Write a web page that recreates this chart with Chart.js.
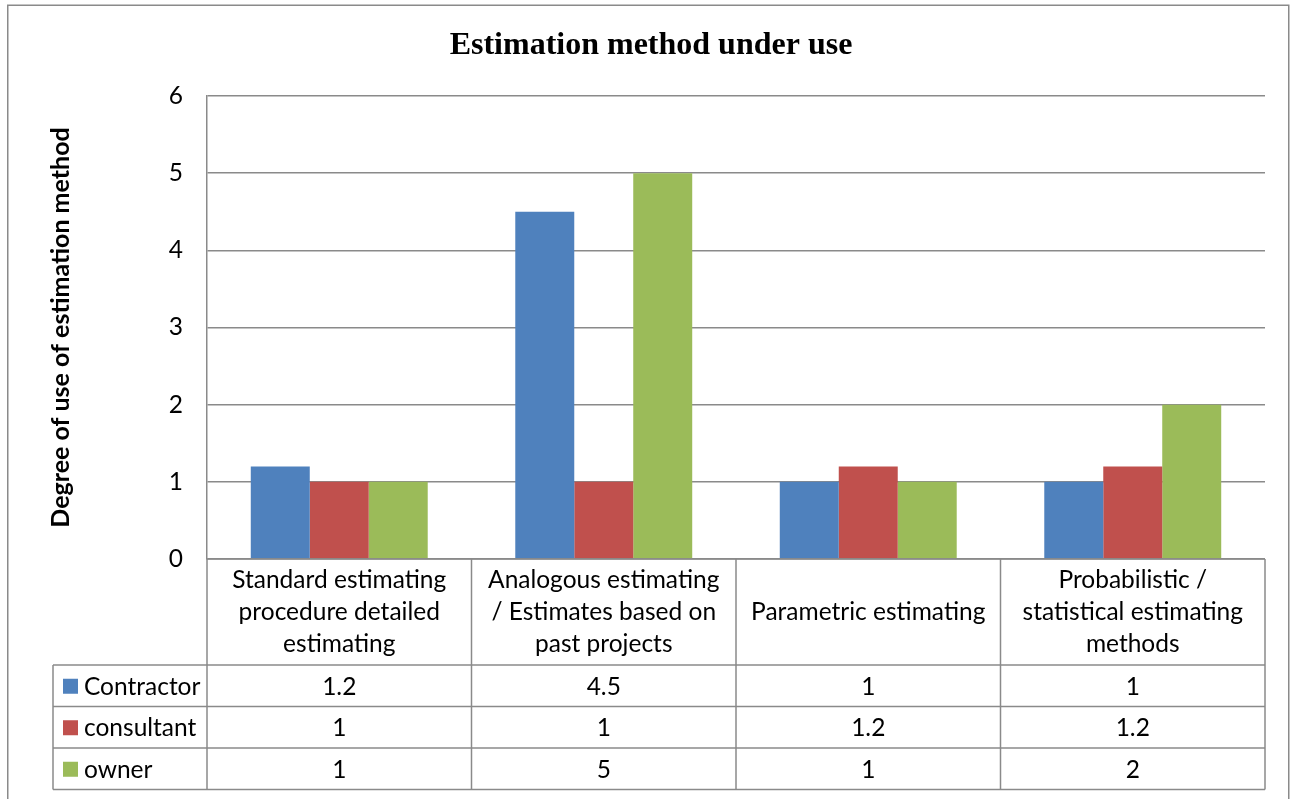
<!DOCTYPE html>
<html>
<head>
<meta charset="utf-8">
<script src="https://cdn.jsdelivr.net/npm/chart.js@4.4.1/dist/chart.umd.min.js"></script>
<style>
  html, body { margin: 0; padding: 0; background: #ffffff; }
  #wrap { width: 1294px; height: 799px; }
</style>
</head>
<body>
<div id="wrap"><canvas id="c" width="1294" height="799"></canvas></div>
<script>
// Estimation methods and how strongly each party uses them
const categories = [
  ['Standard estimating', 'procedure detailed', 'estimating'],
  ['Analogous estimating', '/ Estimates based on', 'past projects'],
  ['Parametric estimating'],
  ['Probabilistic /', 'statistical estimating', 'methods']
];
const seriesNames = ['Contractor', 'consultant', 'owner'];
const contractor = [1.2, 4.5, 1, 1];
const consultant = [1, 1, 1.2, 1.2];
const owner = [1, 5, 1, 2];
const valueLabels = [
  ['1.2', '4.5', '1', '1'],
  ['1', '1', '1.2', '1.2'],
  ['1', '5', '1', '2']
];
const yTicks = [0, 1, 2, 3, 4, 5, 6];

const colors = ['#4F81BD', '#C0504D', '#9BBB59'];
const lineGray = '#8a8a8a';
const bodyFont = 'Lato, "Open Sans", sans-serif';
const bodySize = 24.5;

// Title, axis title, frame and the data table under the plot
const decorations = {
  id: 'decorations',
  afterDraw(chart) {
    const ctx = chart.ctx;
    const area = chart.chartArea;
    const xs = chart.scales.x;
    const n = categories.length;
    const colW = (area.right - area.left) / n;

    ctx.save();
    // outer frame
    ctx.strokeStyle = lineGray;
    ctx.lineWidth = 1.5;
    ctx.strokeRect(7.75, 5.25, 1281, 820);

    // chart title
    ctx.fillStyle = '#000';
    ctx.font = 'bold 32px "Liberation Serif", "Times New Roman", serif';
    ctx.textAlign = 'center';
    ctx.textBaseline = 'middle';
    ctx.fillText('Estimation method under use', 651, 46);

    // vertical axis title
    ctx.save();
    ctx.translate(61, (area.top + area.bottom) / 2);
    ctx.rotate(-Math.PI / 2);
    ctx.font = 'bold 25px ' + bodyFont;
    ctx.fillText('Degree of use of estimation method', 0, 0);
    ctx.restore();

    // data table geometry
    const headTop = area.bottom;
    const headBottom = headTop + 106;
    const rowH = 41.5;
    const tableBottom = headBottom + rowH * seriesNames.length;
    const keyLeft = 53;

    ctx.strokeStyle = lineGray;
    ctx.lineWidth = 1.5;
    ctx.beginPath();
    // header top and table rows
    ctx.moveTo(area.left, headTop); ctx.lineTo(area.right, headTop);
    for (let r = 0; r <= seriesNames.length; r++) {
      const y = headBottom + r * rowH;
      ctx.moveTo(keyLeft, y); ctx.lineTo(area.right, y);
    }
    // column separators
    for (let i = 0; i <= n; i++) {
      const x = i < n ? xs.getPixelForValue(i) - colW / 2 : xs.getPixelForValue(n - 1) + colW / 2;
      ctx.moveTo(x, headTop); ctx.lineTo(x, tableBottom);
    }
    ctx.moveTo(keyLeft, headBottom); ctx.lineTo(keyLeft, tableBottom);
    ctx.stroke();

    // category headers
    ctx.fillStyle = '#000';
    ctx.font = bodySize + 'px ' + bodyFont;
    const lineH = 32;
    categories.forEach((lines, i) => {
      const cx = xs.getPixelForValue(i);
      const cy = (headTop + headBottom) / 2;
      const y0 = cy - (lines.length - 1) * lineH / 2;
      lines.forEach((t, k) => ctx.fillText(t, cx, y0 + k * lineH));
    });

    // series rows with legend keys
    seriesNames.forEach((name, r) => {
      const cy = headBottom + r * rowH + rowH / 2;
      ctx.fillStyle = colors[r];
      ctx.fillRect(63, cy - 7, 15, 15);
      ctx.fillStyle = '#000';
      ctx.textAlign = 'left';
      ctx.fillText(name, 84, cy + 1);
      ctx.textAlign = 'center';
      valueLabels[r].forEach((v, i) => ctx.fillText(v, xs.getPixelForValue(i), cy + 1));
    });
    ctx.restore();
  }
};

new Chart(document.getElementById('c'), {
  type: 'bar',
  data: {
    labels: categories.map(c => c.join(' ')),
    datasets: [
      { label: seriesNames[0], data: contractor, backgroundColor: colors[0] },
      { label: seriesNames[1], data: consultant, backgroundColor: colors[1] },
      { label: seriesNames[2], data: owner, backgroundColor: colors[2] }
    ]
  },
  options: {
    responsive: false,
    animation: false,
    devicePixelRatio: 1,
    categoryPercentage: 0.669,
    barPercentage: 1,
    layout: { padding: { left: 0, top: 96, right: 29, bottom: 240 } },
    plugins: { legend: { display: false }, title: { display: false }, tooltip: { enabled: false } },
    scales: {
      x: { display: false },
      y: {
        min: 0, max: 6,
        afterFit(scale) { scale.width = 207; },
        afterBuildTicks(scale) { scale.ticks = yTicks.map(v => ({ value: v })); },
        ticks: { color: '#000', font: { size: bodySize, family: bodyFont }, padding: 24 },
        grid: { color: lineGray, lineWidth: 1.5, drawTicks: false },
        border: { color: lineGray, width: 1.5 }
      }
    }
  },
  plugins: [decorations]
});
</script>
</body>
</html>
